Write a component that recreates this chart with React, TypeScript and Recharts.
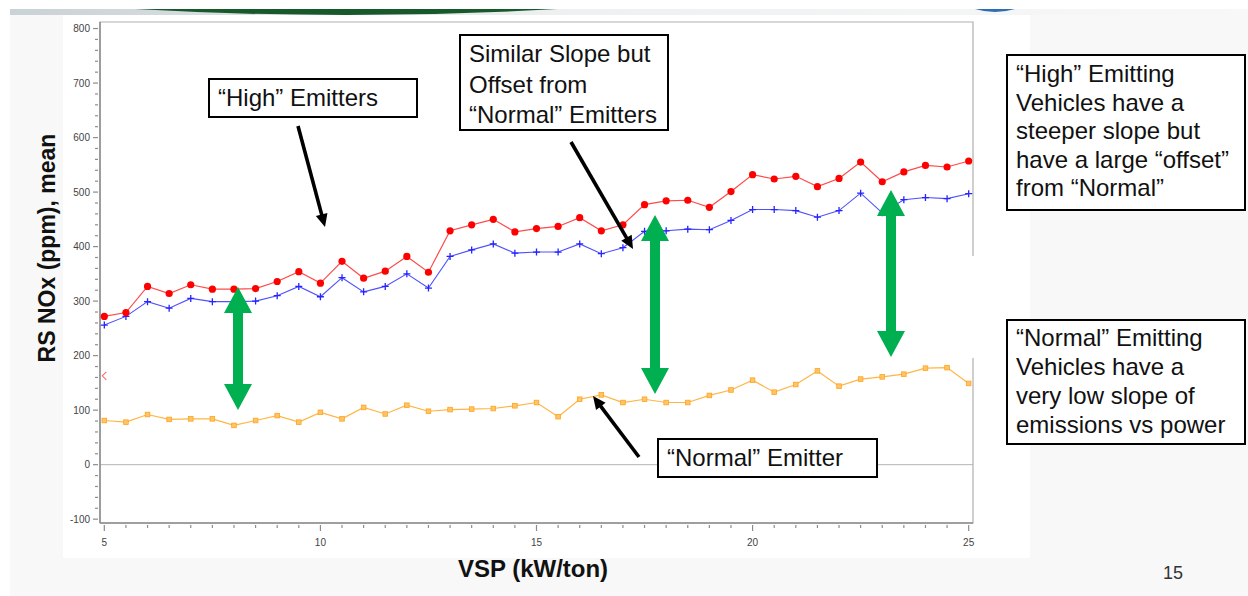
import React from 'react';
import { ComposedChart, Line, Scatter, XAxis, YAxis, ReferenceLine, ReferenceArea } from 'recharts';

// VSP bins (kW/ton)
const vsp = [
  5, 5.5, 6, 6.5, 7, 7.5, 8, 8.5, 9, 9.5, 10, 10.5, 11, 11.5, 12, 12.5, 13, 13.5, 14, 14.5, 15,
  15.5, 16, 16.5, 17, 17.5, 18, 18.5, 19, 19.5, 20, 20.5, 21, 21.5, 22, 22.5, 23, 23.5, 24, 24.5, 25
];

// "High" emitters (red)
const highNox = [
  272, 279, 327, 314, 330, 322, 322, 323, 336, 354, 333, 373, 342, 355, 382, 353, 429, 440, 450, 427, 433,
  437, 453, 429, 440, 477, 484, 485, 472, 501, 532, 524, 529, 510, 525, 555, 519, 537, 549, 546, 557
];

// similar slope, offset from normal (blue)
const offsetNox = [
  256, 272, 299, 287, 305, 299, 299, 300, 310, 327, 308, 343, 317, 327, 350, 324, 382, 394, 405, 388, 390,
  390, 405, 387, 398, 428, 429, 432, 431, 448, 468, 468, 466, 454, 466, 498, 462, 486, 490, 488, 497
];

// "Normal" emitters (orange)
const normalNox = [
  81, 78, 92, 83, 84, 84, 72, 81, 90, 78, 96, 84, 105, 93, 109, 98, 101, 102, 103, 108, 114,
  88, 120, 128, 114, 120, 114, 114, 127, 137, 155, 133, 147, 172, 144, 157, 161, 166, 177, 178, 149
];

// lone marker near the y axis
const outlierVsp = [5];
const outlierNox = [163];

const xLabelTicks = [5, 10, 15, 20, 25];
const yLabelTicks = [-100, 0, 100, 200, 300, 400, 500, 600, 700, 800];
const yMinorStep = 20;

const tableData = vsp.map((v, i) => ({ vsp: v, high: highNox[i], offset: offsetNox[i], normal: normalNox[i] }));
const outlierData = outlierVsp.map((v, i) => ({ vsp: v, nox: outlierNox[i] }));

const yTicks: number[] = [];
for (let t = yLabelTicks[0]; t <= yLabelTicks[yLabelTicks.length - 1]; t += yMinorStep) yTicks.push(t);

const FONT = '"Liberation Sans", Arial, sans-serif';
const AXIS = '#8c8c8c';

const XTick = (p: any) => {
  const { x, y, payload } = p;
  const major = xLabelTicks.includes(payload.value);
  return (
    <g>
      <line x1={x} x2={x} y1={y} y2={y + (major ? 6 : 3)} stroke={AXIS} strokeWidth={1.2} />
      {major && (
        <text x={x} y={y + 21} textAnchor="middle" fontSize={10} fill="#444" fontFamily={FONT}>
          {payload.value}
        </text>
      )}
    </g>
  );
};

const YTick = (p: any) => {
  const { x, y, payload } = p;
  const major = yLabelTicks.includes(payload.value);
  return (
    <g>
      <line x1={x - (major ? 5 : 3)} x2={x} y1={y} y2={y} stroke={AXIS} strokeWidth={1.2} />
      {major && (
        <text x={x - 8} y={y + 3.5} textAnchor="end" fontSize={10} fill="#444" fontFamily={FONT}>
          {payload.value}
        </text>
      )}
    </g>
  );
};

const RedDot = (p: any) =>
  p.cy == null ? <g key={p.index} /> : <circle key={p.index} cx={p.cx} cy={p.cy} r={3.6} fill="#ff0000" />;

const PlusDot = (p: any) =>
  p.cy == null ? (
    <g key={p.index} />
  ) : (
    <path
      key={p.index}
      d={`M${p.cx - 3.5},${p.cy}h7M${p.cx},${p.cy - 3.5}v7`}
      stroke="#2424ff"
      strokeWidth={1.3}
      fill="none"
    />
  );

const HashDot = (p: any) =>
  p.cy == null ? (
    <g key={p.index} />
  ) : (
    <rect key={p.index} x={p.cx - 2.3} y={p.cy - 2.3} width={4.6} height={4.6} fill="#ffc46a" stroke="#ffa31a" strokeWidth={0.8} />
  );

const LtShape = (p: any) => (
  <path d={`M${p.cx + 2},${p.cy - 4}L${p.cx - 2},${p.cy}L${p.cx + 2},${p.cy + 4}`} stroke="#ff6a6a" strokeWidth={1.1} fill="none" />
);

// annotation helpers
const greenArrow = (cx: number, top: number, bot: number) => {
  const hw = 14, sw = 5, hh = 26;
  return `${cx},${top} ${cx + hw},${top + hh} ${cx + sw},${top + hh} ${cx + sw},${bot - hh} ${cx + hw},${bot - hh} ${cx},${bot} ${cx - hw},${bot - hh} ${cx - sw},${bot - hh} ${cx - sw},${top + hh} ${cx - hw},${top + hh}`;
};

const BlackArrow = ({ x1, y1, x2, y2 }: { x1: number; y1: number; x2: number; y2: number }) => {
  const dx = x2 - x1, dy = y2 - y1;
  const len = Math.sqrt(dx * dx + dy * dy);
  const ux = dx / len, uy = dy / len;
  const hl = 13, hw = 6;
  const bx = x2 - ux * hl, by = y2 - uy * hl;
  return (
    <g>
      <line x1={x1} y1={y1} x2={bx + ux} y2={by + uy} stroke="#000" strokeWidth={3.6} />
      <polygon points={`${x2},${y2} ${bx - uy * hw},${by + ux * hw} ${bx + uy * hw},${by - ux * hw}`} fill="#000" />
    </g>
  );
};

type TBox = { left: number; top: number; width: number; height: number; pad: number; lh: number; lines: string[] };
const NoteBox = ({ left, top, width, height, pad, lh, lines }: TBox) => (
  <div
    style={{
      position: 'absolute',
      left,
      top,
      width,
      height,
      boxSizing: 'border-box',
      border: '2.5px solid #000',
      background: '#fff',
      padding: `${pad}px 0 0 8px`,
      fontSize: 24,
      lineHeight: `${lh}px`,
      color: '#111',
      whiteSpace: 'nowrap'
    }}
  >
    {lines.map((l, i) => (
      <div key={i}>{l}</div>
    ))}
  </div>
);

export default function App() {
  return (
    <div
      style={{
        position: 'absolute',
        left: 0,
        top: 0,
        width: 1248,
        height: 596,
        background: '#fff',
        overflow: 'hidden',
        fontFamily: FONT
      }}
    >
      {/* slide background */}
      <div style={{ position: 'absolute', left: 10, top: 9, width: 1238, height: 587, background: '#f8f8f8' }} />
      <svg width={1248} height={20} style={{ position: 'absolute', left: 0, top: 0 }}>
        <defs>
          <linearGradient id="band" x1="0" x2="1" y1="0" y2="0">
            <stop offset="0" stopColor="#c9d2d6" />
            <stop offset="0.45" stopColor="#eef0f1" />
            <stop offset="1" stopColor="#f8f8f8" />
          </linearGradient>
        </defs>
        <rect x={10} y={9} width={1238} height={6} fill="url(#band)" />
        <path d="M135 9 Q346 21 557 9 Z" fill="#17592b" />
        <path d="M975 9 Q995 15 1015 9 Z" fill="#2e6db4" />
      </svg>
      <div style={{ position: 'absolute', left: 63, top: 15, width: 967, height: 543, background: '#fff' }} />

      <div style={{ position: 'absolute', left: 0, top: 0 }}>
        <ComposedChart
          width={1248}
          height={596}
          data={tableData}
          margin={{ top: 22, right: 275, bottom: 43, left: 60 }}
        >
          <ReferenceArea x1={4.9} x2={25.1} y1={-107} y2={812} fill="none" stroke="#b0b0b0" strokeWidth={1.2} />
          <XAxis
            dataKey="vsp"
            type="number"
            domain={[4.9, 25.1]}
            allowDataOverflow
            ticks={vsp}
            interval={0}
            height={30}
            tickLine={false}
            tickSize={0}
            tick={XTick}
            axisLine={{ stroke: AXIS, strokeWidth: 1.5 }}
          />
          <YAxis
            type="number"
            domain={[-107, 812]}
            allowDataOverflow
            ticks={yTicks}
            interval={0}
            width={40}
            tickLine={false}
            tickSize={0}
            tick={YTick}
            axisLine={{ stroke: AXIS, strokeWidth: 1.5 }}
          />
          <ReferenceLine y={0} stroke="#b5b5b5" strokeWidth={1} />
          <Line
            dataKey="normal"
            name="Normal Emitters"
            type="linear"
            stroke="#ffb545"
            strokeWidth={1.2}
            dot={HashDot}
            activeDot={false}
            isAnimationActive={false}
          />
          <Line
            dataKey="offset"
            name="Similar slope, offset"
            type="linear"
            stroke="#5050ff"
            strokeWidth={1.1}
            dot={PlusDot}
            activeDot={false}
            isAnimationActive={false}
          />
          <Line
            dataKey="high"
            name="High Emitters"
            type="linear"
            stroke="#ff4a4a"
            strokeWidth={1.2}
            dot={RedDot}
            activeDot={false}
            isAnimationActive={false}
          />
          <Scatter data={outlierData} dataKey="nox" shape={LtShape} isAnimationActive={false} />
        </ComposedChart>
      </div>

      {/* gap in the right frame */}
      <div style={{ position: 'absolute', left: 970, top: 256, width: 6, height: 102, background: '#fff' }} />

      {/* axis titles */}
      <div
        style={{
          position: 'absolute',
          left: 47,
          top: 248,
          transform: 'translate(-50%, -50%) rotate(-90deg)',
          fontWeight: 'bold',
          fontSize: 23,
          whiteSpace: 'nowrap',
          color: '#111'
        }}
      >
        RS NOx (ppm), mean
      </div>
      <div
        style={{
          position: 'absolute',
          left: 533,
          top: 569,
          transform: 'translate(-50%, -50%)',
          fontWeight: 'bold',
          fontSize: 24,
          whiteSpace: 'nowrap',
          color: '#111'
        }}
      >
        VSP (kW/ton)
      </div>
      <div style={{ position: 'absolute', left: 1163, top: 563, fontSize: 18, color: '#333' }}>15</div>

      {/* arrows */}
      <svg width={1248} height={596} style={{ position: 'absolute', left: 0, top: 0, pointerEvents: 'none' }}>
        <polygon points={greenArrow(238, 287, 410)} fill="#00b050" />
        <polygon points={greenArrow(655, 215, 394)} fill="#00b050" />
        <polygon points={greenArrow(891, 190, 357)} fill="#00b050" />
        <BlackArrow x1={298} y1={126} x2={325} y2={227} />
        <BlackArrow x1={571} y1={142} x2={633} y2={249} />
        <BlackArrow x1={639} y1={457} x2={593} y2={396} />
      </svg>

      {/* notes */}
      <NoteBox left={208} top={78} width={210} height={40} pad={3} lh={30} lines={['\u201CHigh\u201D Emitters']} />
      <NoteBox
        left={459}
        top={34}
        width={210}
        height={97}
        pad={3}
        lh={30.5}
        lines={['Similar Slope but', 'Offset from', '\u201CNormal\u201D Emitters']}
      />
      <NoteBox left={657} top={438} width={221} height={40} pad={3} lh={30} lines={['\u201CNormal\u201D Emitter']} />
      <NoteBox
        left={1006}
        top={54}
        width={240}
        height={157}
        pad={4}
        lh={28.5}
        lines={['\u201CHigh\u201D Emitting', 'Vehicles have a', 'steeper slope but', 'have a large \u201Coffset\u201D', 'from \u201CNormal\u201D']}
      />
      <NoteBox
        left={1006}
        top={319}
        width={240}
        height={126}
        pad={2}
        lh={29}
        lines={['\u201CNormal\u201D Emitting', 'Vehicles have a', 'very low slope of', 'emissions vs power']}
      />
    </div>
  );
}
